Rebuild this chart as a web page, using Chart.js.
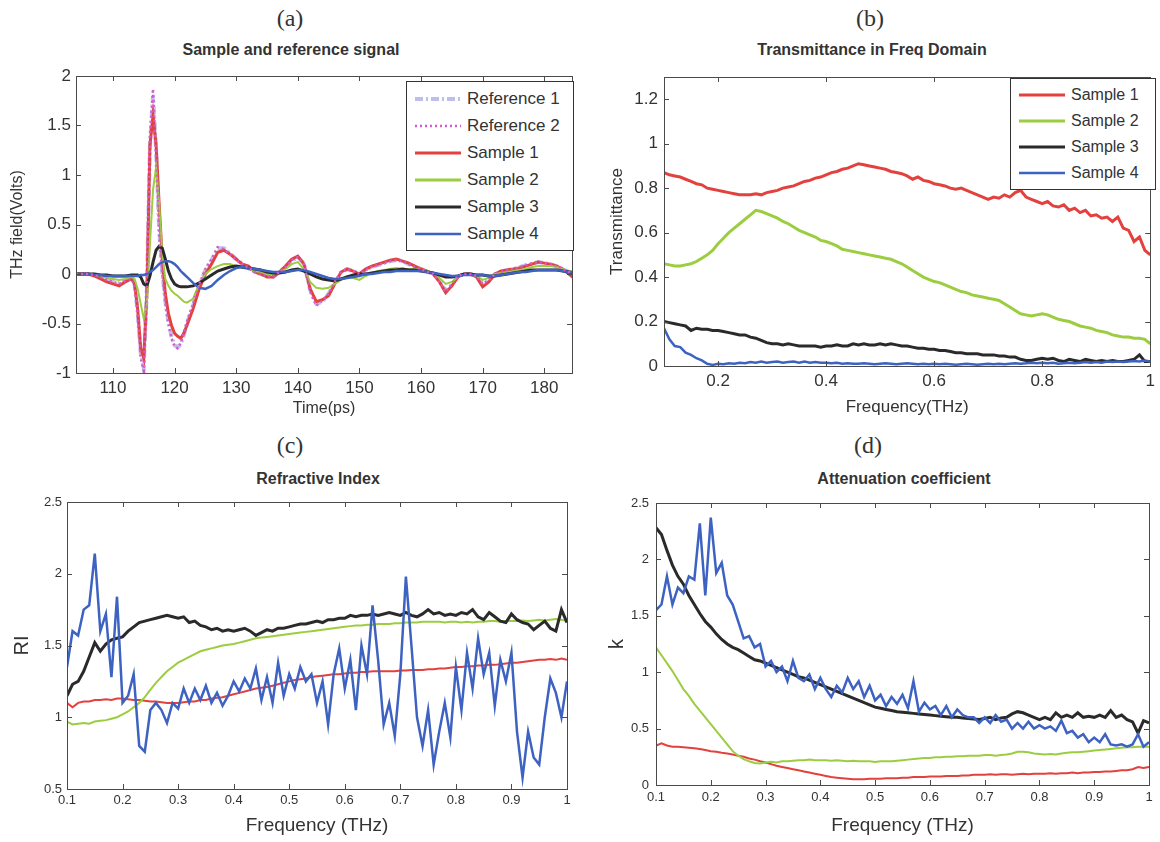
<!DOCTYPE html>
<html>
<head>
<meta charset="utf-8">
<script src="https://cdn.jsdelivr.net/npm/chart.js@4.4.1/dist/chart.umd.min.js"></script>
<style>
  body { margin:0; background:#fff; width:1160px; height:842px; position:relative; overflow:hidden;
         font-family:"Liberation Sans", Arial, sans-serif; color:#333; }
  .pane { position:absolute; }
  .lab { position:absolute; transform:translate(-50%,-50%); font-family:"Liberation Serif", serif; font-size:24px; color:#333; white-space:nowrap; }
  .ttl { position:absolute; transform:translate(-50%,-50%); font-weight:bold; font-size:16px; color:#333; white-space:nowrap; }
  .leg { position:absolute; border:1px solid #333; background:#fff; padding:3px 8px 3px 8px; }
  .leg div { display:flex; align-items:center; height:27px; font-size:17px; color:#333; }
  .leg svg { margin-right:6px; }
  #legb div { height:26px; font-size:16px; }
</style>
</head>
<body>
<div class="lab" style="left:290px;top:18px">(a)</div>
<div class="ttl" style="left:291px;top:50px">Sample and reference signal</div>
<div class="lab" style="left:870px;top:18px">(b)</div>
<div class="ttl" style="left:872px;top:50px">Transmittance in Freq Domain</div>
<div class="lab" style="left:290px;top:445px">(c)</div>
<div class="ttl" style="left:318px;top:479px">Refractive Index</div>
<div class="lab" style="left:868px;top:445px">(d)</div>
<div class="ttl" style="left:904px;top:479px">Attenuation coefficient</div>

<canvas id="ca" class="pane" style="left:0;top:60px" width="585" height="360"></canvas>
<canvas id="cb" class="pane" style="left:580px;top:60px" width="580" height="360"></canvas>
<canvas id="cc" class="pane" style="left:0;top:440px" width="580" height="400"></canvas>
<canvas id="cd" class="pane" style="left:580px;top:440px" width="580" height="400"></canvas>

<div id="lega" class="leg" style="left:406px;top:81px;width:150px"></div>
<div id="legb" class="leg" style="left:1010px;top:78px;width:128px"></div>

<script>
// ---- panel (a): time domain ----
const timePs = [104,105,106,107,108,109,110,111,112,113,
  113.5,114,114.5,115,115.5,116,116.5,117,117.5,118,
  118.5,119,119.5,120,120.5,121,121.5,122,123,124,
  125,126,127,128,129,130,131,132,133,134,
  135,136,137,138,139,140,141,142,143,144,
  145,146,147,148,149,150,151,152,153,154,
  155,156,157,158,159,160,161,162,163,164,
  165,166,167,168,169,170,171,172,173,174,
  175,176,177,178,179,180,181,182,183,184,
  185];
const ref1A = [0,0,0,-0.01,-0.03,-0.05,-0.08,-0.09,-0.07,-0.04,
  -0.1,-0.38,-0.8,-0.95,-0.15,1.3,1.8,1.25,0.45,0.02,
  -0.28,-0.48,-0.63,-0.72,-0.74,-0.71,-0.62,-0.5,-0.32,-0.12,
  0.04,0.14,0.26,0.26,0.21,0.15,0.1,0.06,0.02,0,
  -0.02,-0.03,0.02,0.07,0.13,0.17,0.11,-0.16,-0.3,-0.28,
  -0.2,-0.09,0.01,0.05,0.03,0,0.04,0.07,0.09,0.11,
  0.13,0.14,0.13,0.1,0.07,0.05,0.02,0,-0.07,-0.17,
  -0.11,-0.02,0,0,-0.02,-0.11,-0.06,0,0.02,0.04,
  0.05,0.07,0.09,0.1,0.12,0.11,0.1,0.08,0.05,0.02,
  0];
const ref2A = [0,0,0,-0.01,-0.03,-0.06,-0.08,-0.1,-0.07,-0.05,
  -0.1,-0.4,-0.85,-0.98,-0.1,1.4,1.87,1.2,0.4,0,
  -0.3,-0.5,-0.65,-0.73,-0.75,-0.7,-0.6,-0.48,-0.3,-0.1,
  0.05,0.15,0.27,0.25,0.2,0.14,0.1,0.06,0.02,0,
  -0.02,-0.03,0.02,0.07,0.14,0.17,0.1,-0.18,-0.32,-0.27,
  -0.2,-0.08,0.02,0.05,0.03,0,0.04,0.07,0.09,0.11,
  0.13,0.14,0.13,0.1,0.07,0.05,0.02,0,-0.08,-0.18,
  -0.1,-0.02,0,0,-0.02,-0.1,-0.06,0,0.02,0.04,
  0.05,0.07,0.09,0.11,0.12,0.11,0.1,0.08,0.05,0.02,
  0];
const s1A = [0,0,0,-0.02,-0.05,-0.08,-0.1,-0.12,-0.08,-0.05,
  -0.1,-0.35,-0.75,-0.85,-0.2,1.3,1.6,1.3,0.7,0.15,
  -0.2,-0.4,-0.52,-0.6,-0.63,-0.65,-0.6,-0.52,-0.35,-0.15,
  0,0.1,0.22,0.24,0.2,0.15,0.1,0.08,0.02,0,
  -0.03,-0.03,0.02,0.08,0.15,0.18,0.1,-0.15,-0.28,-0.26,
  -0.22,-0.1,0.02,0.05,0.03,0,0.05,0.08,0.1,0.12,
  0.14,0.15,0.13,0.11,0.08,0.05,0.03,0,-0.08,-0.19,
  -0.12,-0.03,0,0,-0.03,-0.13,-0.08,0,0.03,0.04,
  0.05,0.06,0.08,0.1,0.12,0.11,0.1,0.08,0.05,0,
  -0.05];
const s2A = [0,0,0,-0.01,-0.02,-0.04,-0.05,-0.06,-0.05,-0.03,
  -0.05,-0.15,-0.3,-0.45,-0.3,0.3,0.85,1.08,0.7,0.2,
  -0.05,-0.12,-0.17,-0.2,-0.22,-0.25,-0.28,-0.29,-0.25,-0.1,
  0,0.05,0.08,0.1,0.1,0.08,0.06,0.05,0.03,0.02,
  0,0,0.02,0.05,0.1,0.12,0.05,-0.08,-0.14,-0.15,
  -0.14,-0.1,-0.06,-0.02,-0.04,-0.06,-0.02,0.01,0.03,0.04,
  0.05,0.06,0.05,0.05,0.05,0.04,0.03,0.01,-0.04,-0.1,
  -0.08,-0.03,0,0,-0.02,-0.06,-0.04,0,0.01,0.02,
  0.03,0.04,0.05,0.07,0.08,0.08,0.08,0.07,0.05,0.03,
  0.02];
const s3A = [0,0,0,0,-0.01,-0.01,-0.02,-0.02,-0.02,-0.01,
  -0.01,-0.01,-0.03,-0.1,-0.12,-0.02,0.12,0.24,0.28,0.26,
  0.15,0.03,-0.05,-0.1,-0.12,-0.13,-0.13,-0.13,-0.12,-0.09,
  -0.05,-0.01,0.03,0.05,0.07,0.08,0.07,0.06,0.05,0.04,
  0.02,0.01,0.01,0.02,0.04,0.05,0.03,0,-0.03,-0.05,
  -0.06,-0.07,-0.05,-0.03,-0.01,0,0,0.01,0.02,0.03,
  0.04,0.04,0.05,0.04,0.04,0.03,0.02,0.01,-0.01,-0.03,
  -0.03,-0.02,0,0,-0.01,-0.01,-0.02,-0.02,-0.01,0,
  0.01,0.02,0.03,0.04,0.04,0.04,0.04,0.04,0.03,0.02,
  0.01];
const s4A = [0,0,0,-0.01,-0.01,-0.02,-0.02,-0.02,-0.02,-0.02,
  -0.02,-0.02,-0.01,-0.01,0,0.02,0.04,0.07,0.1,0.12,
  0.13,0.13,0.12,0.1,0.07,0.03,0,-0.03,-0.09,-0.14,
  -0.15,-0.12,-0.06,-0.01,0.03,0.06,0.07,0.06,0.05,0.04,
  0.03,0.02,0.02,0.02,0.03,0.04,0.04,0.02,0,-0.02,
  -0.04,-0.05,-0.05,-0.04,-0.03,-0.02,0,0,0.01,0.02,
  0.02,0.03,0.03,0.03,0.03,0.03,0.02,0.01,0,-0.01,
  -0.02,-0.02,-0.01,-0.01,-0.01,-0.01,-0.02,-0.02,-0.01,0,
  0.01,0.02,0.02,0.03,0.04,0.04,0.04,0.04,0.03,0.02,
  0.01];

// ---- frequency axis shared by (b), (c), (d) ----
const freqTHz = [0.1,0.11,0.12,0.13,0.14,0.15,0.16,0.17,0.18,0.19,
  0.2,0.21,0.22,0.23,0.24,0.25,0.26,0.27,0.28,0.29,
  0.3,0.31,0.32,0.33,0.34,0.35,0.36,0.37,0.38,0.39,
  0.4,0.41,0.42,0.43,0.44,0.45,0.46,0.47,0.48,0.49,
  0.5,0.51,0.52,0.53,0.54,0.55,0.56,0.57,0.58,0.59,
  0.6,0.61,0.62,0.63,0.64,0.65,0.66,0.67,0.68,0.69,
  0.7,0.71,0.72,0.73,0.74,0.75,0.76,0.77,0.78,0.79,
  0.8,0.81,0.82,0.83,0.84,0.85,0.86,0.87,0.88,0.89,
  0.9,0.91,0.92,0.93,0.94,0.95,0.96,0.97,0.98,0.99,
  1];

// (b) transmittance
const s1B = [.87,.86,.855,.85,.84,.83,.82,.815,.80,.795,
  .79,.785,.78,.775,.77,.77,.77,.775,.77,.78,
  .785,.79,.80,.805,.81,.82,.83,.835,.845,.85,
  .86,.87,.875,.885,.89,.90,.91,.905,.90,.895,
  .89,.885,.875,.87,.865,.855,.84,.85,.835,.83,
  .82,.815,.81,.80,.795,.80,.79,.78,.77,.76,
  .75,.76,.755,.77,.76,.78,.79,.76,.75,.74,
  .73,.74,.72,.715,.725,.70,.71,.69,.70,.675,
  .68,.665,.67,.65,.67,.62,.61,.56,.58,.52,
  .50];
const s2B = [.46,.455,.45,.45,.455,.46,.47,.485,.50,.52,
  .55,.575,.60,.62,.64,.66,.68,.70,.695,.685,
  .675,.665,.65,.64,.625,.61,.60,.59,.58,.565,
  .56,.55,.54,.525,.52,.515,.51,.505,.50,.495,
  .49,.485,.48,.47,.46,.445,.43,.415,.40,.39,
  .38,.375,.365,.355,.345,.335,.33,.32,.315,.31,
  .305,.30,.295,.28,.265,.25,.235,.23,.225,.23,
  .235,.23,.22,.21,.205,.20,.19,.18,.175,.17,
  .16,.155,.15,.14,.135,.13,.13,.125,.125,.12,
  .10];
const s3B = [.20,.195,.19,.185,.18,.16,.17,.165,.165,.16,
  .16,.155,.15,.145,.14,.14,.13,.125,.115,.105,
  .10,.10,.095,.10,.095,.09,.09,.09,.09,.085,
  .09,.09,.095,.09,.09,.10,.095,.10,.095,.095,
  .10,.095,.10,.095,.09,.09,.085,.08,.08,.075,
  .075,.07,.07,.065,.06,.06,.055,.055,.055,.05,
  .05,.05,.045,.045,.04,.04,.03,.025,.025,.03,
  .035,.03,.035,.025,.02,.03,.025,.02,.03,.025,
  .02,.025,.02,.025,.02,.02,.025,.03,.05,.02,
  .02];
const s4B = [.17,.12,.09,.085,.06,.05,.035,.025,.01,.005,
  .01,.008,.012,.01,.015,.012,.018,.015,.02,.015,
  .018,.02,.015,.018,.02,.015,.02,.015,.018,.015,
  .015,.012,.015,.01,.012,.01,.01,.012,.01,.008,
  .01,.012,.01,.008,.01,.012,.01,.008,.01,.008,
  .01,.008,.01,.008,.006,.008,.01,.008,.006,.008,
  .01,.008,.01,.008,.01,.012,.01,.012,.015,.012,
  .015,.012,.015,.01,.012,.015,.012,.015,.018,.015,
  .018,.015,.02,.018,.02,.018,.02,.022,.02,.025,
  .02];

// (c) refractive index
const s1C = [1.10,1.07,1.10,1.11,1.11,1.12,1.12,1.125,1.12,1.13,
  1.13,1.125,1.12,1.12,1.115,1.11,1.11,1.105,1.10,1.10,
  1.10,1.105,1.11,1.11,1.12,1.12,1.13,1.135,1.14,1.15,
  1.16,1.17,1.18,1.19,1.20,1.205,1.21,1.22,1.23,1.24,
  1.25,1.26,1.265,1.27,1.28,1.285,1.29,1.295,1.30,1.30,
  1.305,1.31,1.31,1.315,1.315,1.32,1.32,1.32,1.32,1.32,
  1.325,1.325,1.33,1.33,1.33,1.335,1.335,1.34,1.34,1.345,
  1.35,1.35,1.355,1.355,1.36,1.36,1.365,1.365,1.37,1.375,
  1.38,1.38,1.385,1.39,1.395,1.40,1.40,1.405,1.40,1.41,
  1.40];
const s2C = [.97,.95,.955,.96,.955,.97,.975,.98,.99,1.00,
  1.02,1.04,1.07,1.10,1.14,1.19,1.24,1.28,1.32,1.35,
  1.38,1.40,1.42,1.44,1.46,1.47,1.48,1.49,1.50,1.505,
  1.51,1.52,1.53,1.54,1.55,1.555,1.56,1.565,1.57,1.575,
  1.58,1.585,1.59,1.595,1.60,1.605,1.61,1.615,1.62,1.625,
  1.63,1.635,1.64,1.64,1.645,1.645,1.65,1.65,1.65,1.655,
  1.655,1.66,1.66,1.66,1.665,1.665,1.665,1.665,1.66,1.665,
  1.665,1.66,1.665,1.66,1.665,1.665,1.67,1.67,1.665,1.67,
  1.67,1.67,1.675,1.67,1.675,1.68,1.675,1.68,1.685,1.68,
  1.67];
const s3C = [1.15,1.23,1.25,1.32,1.42,1.52,1.46,1.51,1.54,1.55,
  1.56,1.60,1.63,1.66,1.67,1.68,1.69,1.70,1.71,1.70,
  1.69,1.70,1.66,1.67,1.64,1.63,1.61,1.62,1.60,1.61,
  1.60,1.61,1.62,1.60,1.57,1.59,1.61,1.60,1.62,1.62,
  1.63,1.64,1.65,1.65,1.66,1.67,1.66,1.68,1.68,1.69,
  1.69,1.71,1.70,1.71,1.71,1.72,1.71,1.72,1.73,1.72,
  1.71,1.73,1.71,1.70,1.72,1.75,1.72,1.73,1.71,1.72,
  1.71,1.73,1.72,1.75,1.70,1.68,1.73,1.70,1.67,1.66,
  1.72,1.68,1.66,1.65,1.61,1.64,1.67,1.62,1.60,1.75,
  1.66];
const s4C = [1.35,1.60,1.57,1.75,1.78,2.14,1.60,1.72,1.28,1.84,
  1.10,1.15,1.30,0.80,0.76,1.05,1.10,1.05,0.96,1.10,
  1.06,1.20,1.10,1.20,1.12,1.22,1.10,1.17,1.08,1.15,
  1.25,1.18,1.27,1.20,1.34,1.12,1.28,1.10,1.38,1.15,
  1.30,1.20,1.35,1.25,1.30,1.10,1.25,0.95,1.30,1.48,
  1.20,1.40,1.05,1.50,1.30,1.78,1.40,0.95,1.10,0.87,
  1.30,1.98,1.50,1.00,0.80,1.05,0.67,0.90,1.10,0.86,
  1.35,1.05,1.45,1.20,1.55,1.30,1.45,1.08,1.40,1.25,
  1.45,0.90,0.58,0.90,0.72,0.67,1.00,1.27,1.17,1.00,
  1.25];

// (d) attenuation coefficient
const s1D = [.35,.37,.35,.34,.34,.335,.33,.325,.32,.31,
  .30,.295,.285,.28,.27,.26,.25,.235,.225,.21,
  .20,.185,.17,.16,.15,.14,.13,.12,.11,.10,
  .09,.08,.07,.065,.06,.055,.05,.05,.05,.055,
  .055,.055,.06,.06,.06,.065,.065,.07,.07,.07,
  .075,.075,.075,.08,.08,.08,.085,.085,.09,.09,
  .09,.095,.09,.095,.095,.09,.095,.10,.095,.10,
  .10,.10,.105,.10,.105,.105,.11,.105,.11,.11,
  .115,.115,.12,.12,.125,.13,.13,.14,.16,.15,
  .16];
const s2D = [1.22,1.15,1.08,1.01,.93,.85,.79,.72,.66,.60,
  .54,.48,.42,.36,.30,.26,.23,.21,.195,.19,
  .20,.205,.20,.21,.21,.215,.22,.22,.225,.22,
  .22,.22,.215,.22,.215,.21,.215,.21,.21,.21,
  .205,.21,.21,.21,.215,.22,.225,.23,.235,.24,
  .24,.245,.245,.25,.25,.255,.255,.26,.26,.26,
  .265,.265,.26,.265,.27,.28,.295,.295,.29,.28,
  .275,.27,.275,.27,.28,.285,.29,.29,.295,.30,
  .305,.31,.315,.32,.325,.33,.335,.335,.34,.34,
  .34];
const s3D = [2.28,2.22,2.08,1.95,1.85,1.78,1.68,1.60,1.52,1.45,
  1.40,1.34,1.29,1.25,1.22,1.20,1.17,1.14,1.11,1.10,
  1.08,1.06,1.04,1.02,1.00,0.98,0.96,0.95,0.93,0.91,
  0.89,0.87,0.85,0.83,0.81,0.79,0.77,0.75,0.73,0.71,
  0.69,0.68,0.67,0.66,0.65,0.645,0.64,0.635,0.63,0.625,
  0.62,0.615,0.61,0.605,0.60,0.60,0.595,0.59,0.585,0.58,
  0.59,0.60,0.58,0.595,0.60,0.63,0.65,0.64,0.62,0.60,
  0.58,0.60,0.58,0.64,0.60,0.62,0.60,0.64,0.60,0.61,
  0.60,0.62,0.60,0.66,0.60,0.62,0.58,0.56,0.46,0.57,
  0.55];
const s4D = [1.55,1.60,1.85,1.60,1.75,1.70,1.85,1.82,2.32,1.68,
  2.37,1.88,1.97,1.68,1.60,1.45,1.30,1.32,1.22,1.25,
  1.05,1.10,1.00,1.05,0.92,1.10,0.95,0.92,0.98,0.85,
  0.95,0.85,0.78,0.88,0.82,0.95,0.85,0.92,0.78,0.88,
  0.75,0.80,0.70,0.78,0.72,0.80,0.68,0.92,0.65,0.73,
  0.67,0.70,0.62,0.70,0.60,0.67,0.62,0.60,0.60,0.55,
  0.60,0.55,0.62,0.56,0.58,0.50,0.55,0.50,0.56,0.50,
  0.53,0.50,0.52,0.48,0.57,0.46,0.48,0.42,0.45,0.38,
  0.42,0.38,0.45,0.36,0.35,0.36,0.34,0.36,0.45,0.34,
  0.38];

const RED = '#e3413e', GREEN = '#9ccd40', BLACK = '#2a2a2a', BLUE = '#3d62c2';
const REF1 = 'rgba(168,168,228,0.75)', REF2 = '#d25ccb';

const pts = (xs, ys) => xs.map((x, i) => ({x, y: ys[i]}));
const line = (label, xs, ys, color, width, dash) => ({
  label, data: pts(xs, ys), borderColor: color, borderWidth: width,
  borderDash: dash || [], pointRadius: 0, fill: false, tension: 0
});
// MATLAB style tick text: 1 not 1.0
const fmt = v => String(Math.round(v * 1000) / 1000);

// MATLAB-like box with inward ticks
const boxPlugin = {
  id: 'box',
  afterDatasetsDraw(chart) {
    const {ctx, chartArea: a, scales} = chart;
    ctx.save();
    ctx.strokeStyle = '#4a4a4a';
    ctx.lineWidth = 1;
    ctx.strokeRect(Math.round(a.left) + 0.5, Math.round(a.top) + 0.5, Math.round(a.width), Math.round(a.height));
    ctx.beginPath();
    scales.x.ticks.forEach(t => {
      const x = Math.round(scales.x.getPixelForValue(t.value)) + 0.5;
      ctx.moveTo(x, a.bottom); ctx.lineTo(x, a.bottom - 5);
      ctx.moveTo(x, a.top); ctx.lineTo(x, a.top + 5);
    });
    scales.y.ticks.forEach(t => {
      const y = Math.round(scales.y.getPixelForValue(t.value)) + 0.5;
      ctx.moveTo(a.left, y); ctx.lineTo(a.left + 5, y);
      ctx.moveTo(a.right, y); ctx.lineTo(a.right - 5, y);
    });
    ctx.stroke();
    ctx.restore();
  }
};

function makeChart(id, datasets, o) {
  return new Chart(document.getElementById(id), {
    type: 'line',
    data: { datasets },
    plugins: [boxPlugin],
    options: {
      responsive: false, animation: false,
      layout: { padding: { top: o.top, right: o.right, left: 0, bottom: 0 } },
      plugins: { legend: { display: false }, tooltip: { enabled: false } },
      scales: {
        x: {
          type: 'linear', min: o.xmin, max: o.xmax,
          grid: { display: false, drawTicks: false }, border: { display: false },
          ticks: { stepSize: o.xstep, includeBounds: false, autoSkip: false, maxRotation: 0, callback: fmt,
                   padding: o.xpad, color: '#333', font: { family: 'Liberation Sans', size: o.tickSize } },
          title: { display: true, text: o.xtitle, color: '#333', padding: { top: 0, bottom: o.xtpad },
                   font: { family: 'Liberation Sans', size: o.xtSize } },
          afterFit: s => { s.height = o.xh; }
        },
        y: {
          type: 'linear', min: o.ymin, max: o.ymax,
          grid: { display: false, drawTicks: false }, border: { display: false },
          ticks: { stepSize: o.ystep, includeBounds: false, autoSkip: false, callback: fmt,
                   padding: o.ypad, color: '#333', font: { family: 'Liberation Sans', size: o.tickSize } },
          title: { display: true, text: o.ytitle, color: '#333', padding: { top: o.ytpad, bottom: 0 },
                   font: { family: 'Liberation Sans', size: o.ytSize } },
          afterFit: s => { s.width = o.yw; }
        }
      }
    }
  });
}

makeChart('ca', [
  line('Reference 2', timePs, ref2A, REF2, 2.5, [2, 3]),
  line('Sample 4', timePs, s4A, BLUE, 2.5),
  line('Sample 3', timePs, s3A, BLACK, 3),
  line('Sample 2', timePs, s2A, GREEN, 2),
  line('Sample 1', timePs, s1A, RED, 3),
  line('Reference 1', timePs, ref1A, REF1, 4, [8, 3, 2, 3])
], { top: 16, right: 13, xmin: 104, xmax: 184.5, xstep: 10, ymin: -1, ymax: 2, ystep: 0.5,
     xh: 47, yw: 76, xpad: 5, ypad: 5, tickSize: 17, xtitle: 'Time(ps)', xtSize: 16, xtpad: 2,
     ytitle: 'THz field(Volts)', ytSize: 16, ytpad: 8 });

makeChart('cb', [
  line('Sample 4', freqTHz, s4B, BLUE, 2.5),
  line('Sample 3', freqTHz, s3B, BLACK, 3),
  line('Sample 2', freqTHz, s2B, GREEN, 3),
  line('Sample 1', freqTHz, s1B, RED, 3)
], { top: 17, right: 5, xmin: 0.1, xmax: 1, xstep: 0.2, ymin: 0, ymax: 1.3, ystep: 0.2,
     xh: 54, yw: 84, xpad: 5, ypad: 6, tickSize: 17, xtitle: 'Frequency(THz)', xtSize: 17, xtpad: 2,
     ytitle: 'Transmittance', ytSize: 17, ytpad: 27 });

makeChart('cc', [
  line('Sample 4', freqTHz, s4C, BLUE, 2.5),
  line('Sample 3', freqTHz, s3C, BLACK, 3),
  line('Sample 2', freqTHz, s2C, GREEN, 2),
  line('Sample 1', freqTHz, s1C, RED, 2)
], { top: 62, right: 13, xmin: 0.1, xmax: 1, xstep: 0.1, ymin: 0.5, ymax: 2.5, ystep: 0.5,
     xh: 51, yw: 67, xpad: 4, ypad: 5, tickSize: 13, xtitle: 'Frequency (THz)', xtSize: 19, xtpad: 3,
     ytitle: 'RI', ytSize: 20, ytpad: 10 });

makeChart('cd', [
  line('Sample 4', freqTHz, s4D, BLUE, 2.5),
  line('Sample 3', freqTHz, s3D, BLACK, 3),
  line('Sample 2', freqTHz, s2D, GREEN, 2),
  line('Sample 1', freqTHz, s1D, RED, 2)
], { top: 63, right: 11, xmin: 0.1, xmax: 1, xstep: 0.1, ymin: 0, ymax: 2.5, ystep: 0.5,
     xh: 55, yw: 76, xpad: 5, ypad: 7, tickSize: 13, xtitle: 'Frequency (THz)', xtSize: 19, xtpad: 3,
     ytitle: 'k', ytSize: 20, ytpad: 25 });

// legends drawn as HTML boxes inside the axes, like the MATLAB figure
function legend(id, items) {
  const box = document.getElementById(id);
  items.forEach(([name, color, width, dash]) => {
    const row = document.createElement('div');
    row.innerHTML = '<svg width="46" height="8"><line x1="0" y1="4" x2="46" y2="4" stroke="' + color +
      '" stroke-width="' + width + '"' + (dash ? ' stroke-dasharray="' + dash + '"' : '') + '/></svg>' +
      '<span>' + name + '</span>';
    box.appendChild(row);
  });
}
legend('lega', [
  ['Reference 1', REF1, 4, '8 3 2 3'],
  ['Reference 2', REF2, 2.5, '2 3'],
  ['Sample 1', RED, 3],
  ['Sample 2', GREEN, 3],
  ['Sample 3', BLACK, 3],
  ['Sample 4', BLUE, 2.5]
]);
legend('legb', [
  ['Sample 1', RED, 3],
  ['Sample 2', GREEN, 3],
  ['Sample 3', BLACK, 3],
  ['Sample 4', BLUE, 2.5]
]);
</script>
</body>
</html>
